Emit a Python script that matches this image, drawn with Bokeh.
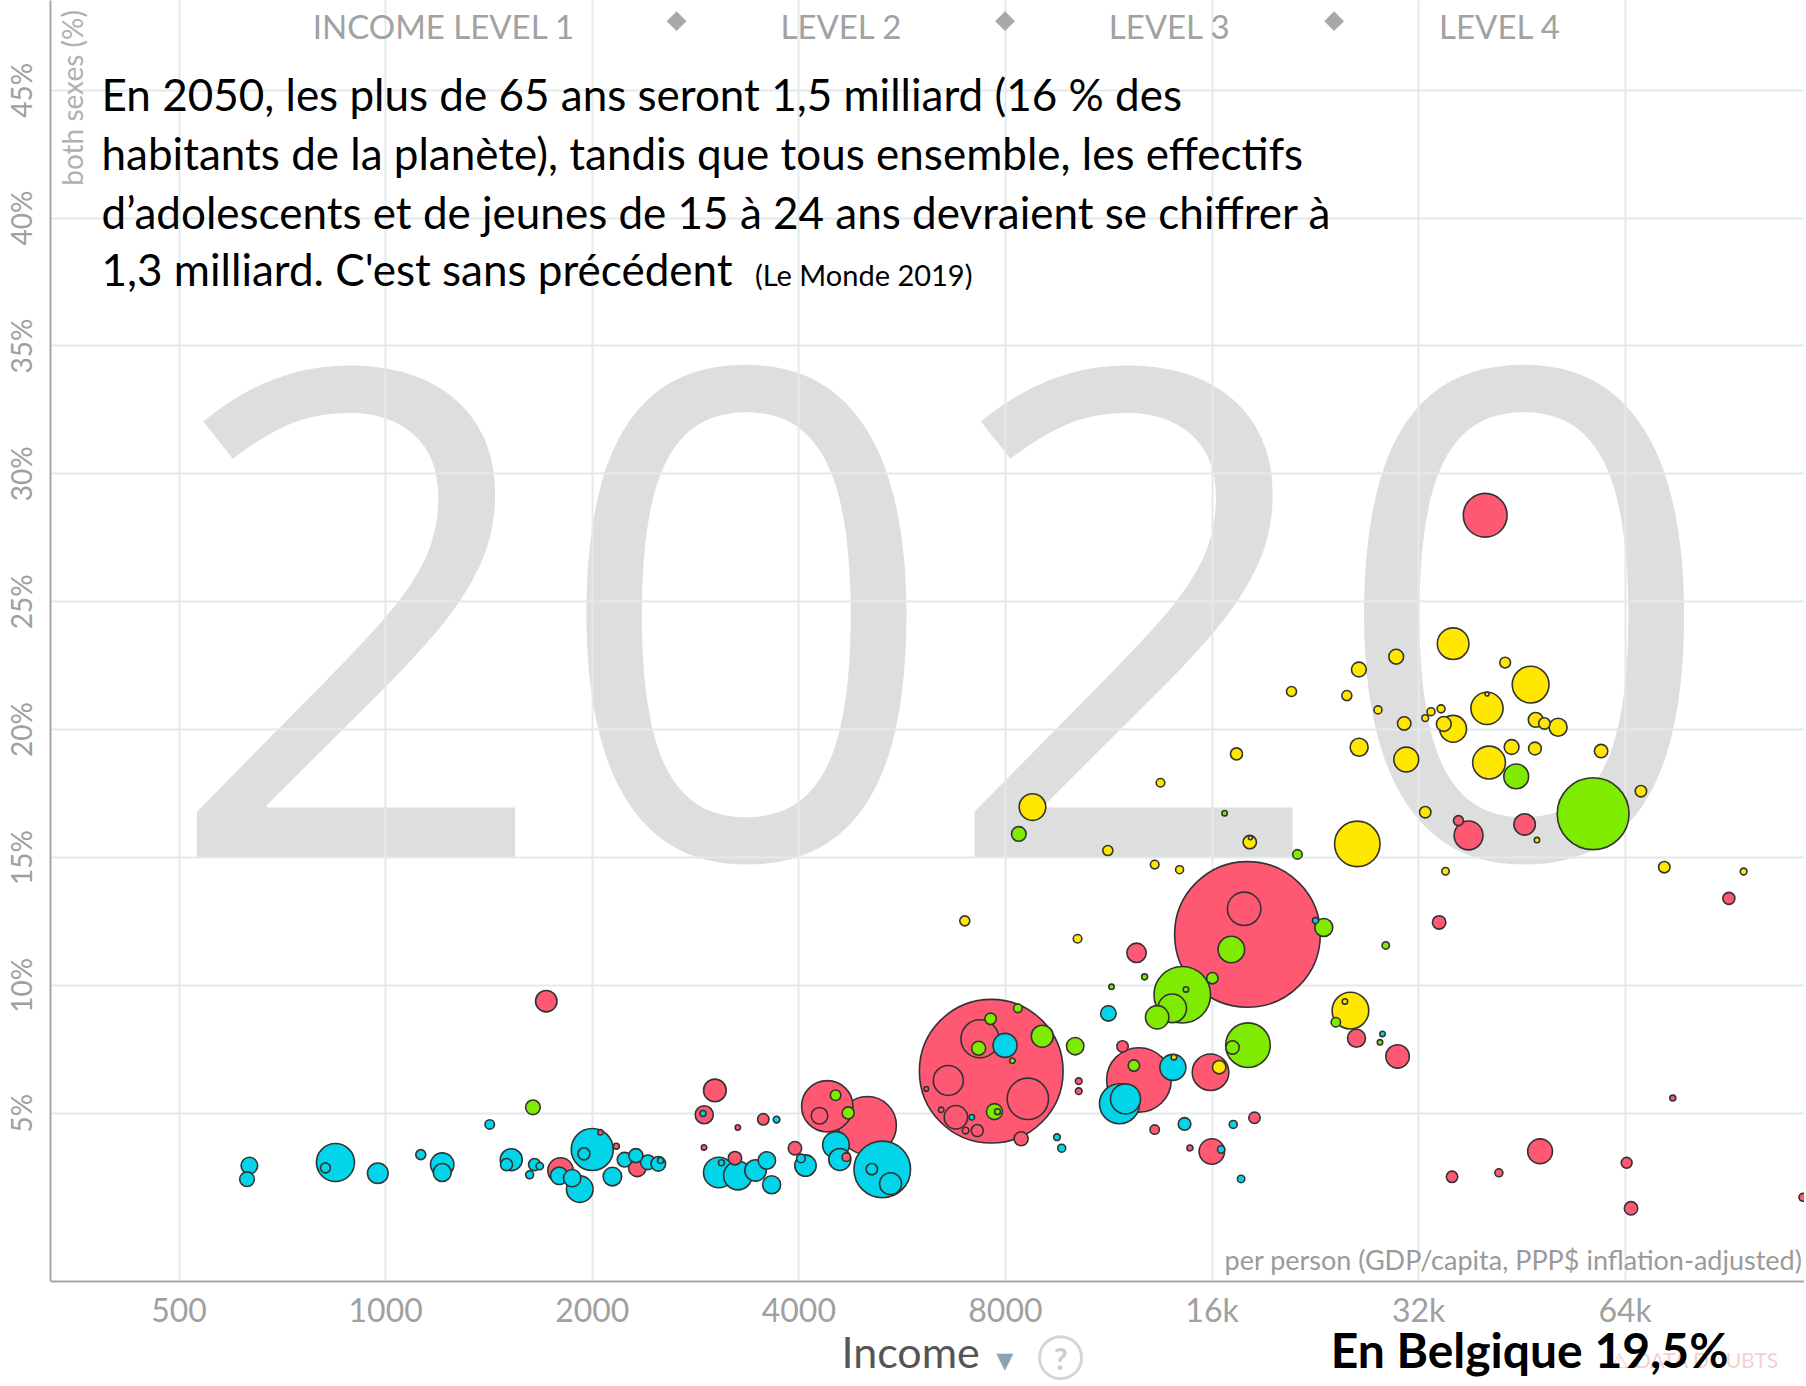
import math
from bokeh.plotting import figure
from bokeh.models import (ColumnDataSource, FixedTicker, PrintfTickFormatter, Label, Range1d,
                          BoxAnnotation)
from bokeh.embed import file_html
from bokeh.resources import INLINE

# ---- data (2020) ----
# income: GDP/capita PPP$, share_65: % of population aged 65+, population: millions
income = [633, 628, 845, 817, 974, 1125, 1209, 1209, 1418, 1714, 1639, 1524, 1500, 1648, 1677, 1621,
          1798, 1790, 1870, 1918, 2000, 1945, 2056, 2168, 2140, 2229, 2315, 2326, 2410, 2496, 2515,
          3018, 2912, 2900, 3260, 3550, 3712, 2910, 3058, 3085, 3228, 3260, 3459, 3593, 3651, 3948,
          4090, 4028, 4400, 4287, 4525, 4720, 5034, 4530, 4589, 4691, 5292, 5110, 5441,
          8760, 8367, 11280, 13200, 14350, 6980, 10190, 12420, 12760, 11420, 11300, 10110,
          7628, 7344, 7612, 7312, 7990, 8340, 9052, 8190, 6604, 8625, 6135, 6775, 6449, 7000, 7279,
          7147, 7711, 7790, 8433, 10230, 10230, 9510, 9662, 11850,
          17370, 13460, 16690, 18160, 18200, 21310, 26050, 18020, 17820, 17070, 23280, 22640,
          16020, 14480, 14000, 13310, 14660, 25460, 24990, 24240, 25980, 18050, 17140, 12520,
          12310, 14030, 14080, 11730, 11970, 15920, 16390, 13200, 14590, 17180, 18450, 15990,
          16500, 14860, 17640,
          35930, 29680, 26190, 25150, 27920, 30490, 26210, 30700, 32720, 33360, 34510, 35930,
          34820, 40250, 40250, 42780, 46600, 47400, 48800, 51100, 43720, 47280, 40530, 44400,
          59030, 67470, 57470, 32720, 37840, 36580, 45670, 47600, 35020, 72970, 95220, 90630,
          34280, 28660, 28350, 28110, 29820, 75080, 48100, 35800, 41890, 64310, 65260, 116200,
          40010, 20890]
share_65 = [2.95, 2.42, 3.07, 2.86, 2.65, 3.38, 2.99, 2.68, 4.56, 9.38, 5.23, 3.18, 2.99, 2.99, 2.93, 2.59,
            2.76, 2.55, 2.46, 2.03, 3.58, 3.41, 4.25, 3.71, 2.52, 3.18, 3.34, 2.86, 3.08, 3.02, 3.15,
            5.89, 4.94, 4.99, 4.44, 4.76, 4.75, 3.66, 2.68, 3.06, 3.24, 2.56, 2.76, 3.15, 2.20, 3.63,
            2.95, 3.23, 5.27, 4.90, 5.70, 5.01, 4.52, 3.76, 3.19, 3.28, 2.80, 2.81, 2.24,
            16.97, 15.92, 15.27, 14.72, 14.52, 12.52, 11.82, 11.27, 10.33, 9.94, 8.90, 7.62,
            6.64, 7.91, 8.69, 7.54, 7.65, 9.10, 8.01, 7.05, 6.28, 5.56, 5.95, 4.84, 5.13, 4.32, 4.32,
            4.84, 5.06, 5.06, 4.00, 6.25, 5.86, 4.06, 3.63, 7.61,
            19.05, 17.92, 16.73, 15.60, 15.77, 15.12, 15.53, 11.99, 12.99, 11.40, 12.26, 12.53,
            10.28, 9.63, 9.10, 8.75, 9.84, 9.01, 9.37, 8.56, 7.93, 7.66, 7.57, 6.30,
            6.86, 6.79, 7.19, 5.37, 5.56, 6.60, 6.80, 4.36, 4.58, 4.56, 4.82, 3.50,
            3.58, 3.64, 2.43,
            23.36, 22.85, 22.35, 21.33, 20.77, 20.24, 19.31, 18.83, 20.45, 20.70, 20.81, 20.03,
            20.22, 20.83, 21.39, 22.62, 21.76, 20.38, 20.24, 20.09, 19.32, 19.26, 18.71, 18.17,
            19.16, 17.59, 16.71, 16.77, 15.86, 16.44, 16.29, 15.68, 14.46, 14.62, 14.45, 13.40,
            12.46, 11.56, 8.10, 7.77, 7.22, 5.59, 3.51, 2.51, 2.67, 3.06, 1.28, 1.71,
            28.38, 21.49]
population = [18.7, 14.5, 98, 6.8, 28.8, 6.8, 37.1, 22, 6.0, 31.1, 14.5, 32.8, 9.8, 9.8, 3.7, 4.3,
              43.8, 20.5, 20.5, 48, 119.6, 9.8, 2.0, 2.4, 23.5, 14.5, 13.3, 20.5, 14.5, 14.5, 2.4,
              34.6, 22, 2.4, 2.0, 8.8, 3.0, 2.0, 63.5, 2.4, 12.2, 55.5, 31.1, 20.5, 22, 12.2,
              31.1, 5.0, 179, 18.7, 7.6, 9.8, 228, 48, 32.8, 5.0, 217, 8.8, 32.8,
              48, 14.5, 6.8, 5.0, 4.3, 6.8, 5.0, 25.5, 2.4, 2.0, 16.1, 20.5,
              1400, 98, 8.8, 13.3, 39, 5.0, 32.8, 2.0, 61, 116, 1.4, 37.1, 2.0, 3.0, 9.8,
              2.0, 17.4, 2.4, 13.3, 3.0, 3.0, 3.0, 4.3, 8.8,
              9.8, 5.0, 2.0, 12.2, 1.1, 6.0, 140, 1439, 75.7, 48, 22, 2.4,
              8.8, 217, 55.5, 37.1, 2.0, 90.9, 2.0, 6.0, 22, 135, 12.2, 283,
              8.8, 45.9, 2.0, 108.5, 61, 90.9, 12.2, 6.0, 10.8, 4.3, 8.8, 43.8,
              3.7, 2.4, 3.7,
              67.7, 14.9, 14.9, 6.8, 4.3, 12.2, 22, 41.7, 3.1, 4.3, 4.3, 48.7,
              14.9, 70.3, 1.1, 7.9, 91.8, 14.9, 8.8, 22, 14.9, 11.1, 73, 41.7,
              12.2, 8.8, 350, 8.8, 56.3, 6.8, 31.1, 2.0, 3.7, 8.8, 3.1, 9.8,
              12.2, 3.7, 2.0, 2.0, 37.1, 2.4, 41.7, 8.8, 4.3, 7.9, 12.2, 4.3,
              130, 6.8]
region = (["africa"] * 9 + ["asia", "americas"] + ["africa"] * 5
          + ["asia", "africa", "africa", "africa", "africa", "africa", "asia", "asia", "africa", "africa",
             "africa", "asia", "africa", "africa", "africa"]
          + ["asia", "asia", "africa", "asia", "asia", "africa", "asia", "africa", "africa", "asia",
             "africa", "africa", "africa", "africa", "asia"]
          + ["africa", "africa", "asia", "asia", "americas", "americas", "asia", "africa", "africa",
             "asia", "africa", "africa", "africa"]
          + ["europe", "americas", "europe", "europe", "europe", "europe", "europe", "asia",
             "americas", "americas", "africa", "americas"]
          + ["asia", "asia", "americas", "americas", "africa", "americas", "americas", "americas",
             "asia", "asia", "asia", "asia", "asia", "asia", "asia"]
          + ["africa", "americas", "americas", "asia", "asia", "asia", "africa", "africa", "asia"]
          + ["europe", "europe", "americas", "europe", "europe", "americas", "europe", "asia", "asia",
             "americas", "americas", "africa"]
          + ["americas", "americas", "americas", "americas", "americas", "europe", "europe",
             "americas", "asia", "americas", "americas", "asia"]
          + ["americas", "africa", "europe", "africa", "africa", "asia", "europe", "asia", "africa",
             "africa", "asia", "asia"]
          + ["africa", "asia", "africa"]
          + ["europe"] * 23 + ["americas"]
          + ["europe", "europe", "americas", "europe", "asia", "asia", "asia", "europe", "europe",
             "europe", "europe", "asia"]
          + ["asia", "americas", "africa", "americas", "asia", "asia", "asia", "asia", "asia", "asia",
             "asia", "asia"]
          + ["asia", "europe"])

region_colors = {"africa": "#00d5e9", "asia": "#ff5872", "americas": "#7feb00", "europe": "#ffe700"}

x_ticks = [500, 1000, 2000, 4000, 8000, 16000, 32000, 64000]
x_tick_labels = ["500", "1000", "2000", "4000", "8000", "16k", "32k", "64k"]
y_ticks = [5, 10, 15, 20, 25, 30, 35, 40, 45]

level_names = ["INCOME LEVEL 1", "LEVEL 2", "LEVEL 3", "LEVEL 4"]
level_centers = [1216, 4614, 13880, 42050]
level_bounds = [2654, 7990, 24100]

quote_lines = ["En 2050, les plus de 65 ans seront 1,5 milliard (16 % des",
               "habitants de la planète), tandis que tous ensemble, les effectifs",
               "d’adolescents et de jeunes de 15 à 24 ans devraient se chiffrer à",
               "1,3 milliard. C'est sans précédent"]
quote_source = "(Le Monde 2019)"

# ---- build ----
n = len(income)
assert len(share_65) == n and len(population) == n and len(region) == n
order = sorted(range(n), key=lambda i: -population[i])
src = ColumnDataSource(dict(
    x=[income[i] for i in order],
    y=[share_65[i] for i in order],
    size=[2 * 1.92 * math.sqrt(population[i]) for i in order],
    color=[region_colors[region[i]] for i in order],
))

Y_AXIS_AT = -1.58
p = figure(width=1804, height=1384, x_axis_type="log",
           x_range=Range1d(324.8, 116800), y_range=Range1d(-5.61, 48.51),
           output_backend="svg", toolbar_location=None, title=None,
           min_border_left=50, min_border_right=0, min_border_top=0, min_border_bottom=0)
p.outline_line_color = None
p.background_fill_color = "white"
p.border_fill_color = "white"

# big year watermark (beneath the grid)
p.add_layout(Label(x=6445, y=24.54, text="2020", text_align="center", text_baseline="alphabetic",
                   text_font="Open Sans", text_font_size="680px", text_color="#dedede", level="image"))

# grid
p.xgrid.ticker = FixedTicker(ticks=x_ticks)
p.ygrid.ticker = FixedTicker(ticks=y_ticks)
for g in (p.xgrid, p.ygrid):
    g.grid_line_color = "#e3eaea"
    g.grid_line_width = 2

# hide grid below the x axis line
p.add_layout(BoxAnnotation(top=Y_AXIS_AT, fill_color="white", fill_alpha=1, line_color=None,
                           level="underlay"))

# axes
p.xaxis.fixed_location = Y_AXIS_AT
p.xaxis.ticker = FixedTicker(ticks=x_ticks)
p.xaxis.major_label_overrides = {t: l for t, l in zip(x_ticks, x_tick_labels)}
p.yaxis.ticker = FixedTicker(ticks=y_ticks)
p.yaxis.formatter = PrintfTickFormatter(format="%d%%")
p.yaxis.major_label_orientation = "vertical"
p.yaxis.bounds = (Y_AXIS_AT, 48.51)
for ax in (p.xaxis, p.yaxis):
    ax.axis_line_color = "#a8a8a8"
    ax.axis_line_width = 2
    ax.major_tick_line_color = None
    ax.minor_tick_line_color = None
    ax.major_label_text_color = "#a0a0a0"
    ax.major_label_text_font = "Lato"
p.xaxis.major_label_text_font_size = "32px"
p.xaxis.major_label_standoff = 3
p.yaxis.major_label_text_font_size = "28px"
p.yaxis.major_label_standoff = 6

# income level header
for name, cx in zip(level_names, level_centers):
    p.add_layout(Label(x=cx, y=47.53, text=name, text_align="center", text_baseline="middle",
                       text_font="Lato", text_font_size="33px", text_color="#a2a2a2"))
p.scatter(x=level_bounds, y=[47.7] * len(level_bounds), marker="square", angle=math.pi / 4,
          size=14, fill_color="#a8a8a8", line_color=None)

# y axis title inside the plot
p.add_layout(Label(x=349, y=44.7, text="both sexes (%)", angle=math.pi / 2, text_align="center",
                   text_baseline="middle", text_font="Lato", text_font_size="28px", text_color="#b0b0b0"))

# bubbles
p.scatter("x", "y", size="size", source=src, fill_color="color", line_color="#333333",
          line_width=1.6, fill_alpha=1)

# x-axis description inside plot
p.add_layout(Label(x=116000, y=-0.72, text="per person (GDP/capita, PPP$ inflation-adjusted)",
                   text_align="right", text_baseline="middle", text_font="Lato",
                   text_font_size="27px", text_color="#9a9a9a"))

# quote
quote_baselines = [44.86, 42.55, 40.24, 38.00]
for line, yb in zip(quote_lines, quote_baselines):
    p.add_layout(Label(x=385.5, y=yb, text=line, text_align="left", text_baseline="alphabetic",
                       text_font="Lato", text_font_size="44px", text_color="#000000"))
p.add_layout(Label(x=3453, y=37.80, text=quote_source, text_align="left", text_baseline="alphabetic",
                   text_font="Lato", text_font_size="29px", text_color="#000000"))

# x axis title below: "Income ▾ (?)"
help_x, help_y = 9625, -4.56
p.add_layout(Label(x=5820, y=-4.31, text="Income", text_align="center", text_baseline="alphabetic",
                   text_font="Lato", text_font_size="43px", text_color="#555555"))
p.add_layout(Label(x=7980, y=-4.60, text="▾", text_align="center", text_baseline="middle",
                   text_font="DejaVu Sans", text_font_size="34px", text_color="#8ea3ad"))
p.scatter(x=[help_x], y=[help_y], marker="circle", size=42, fill_color=None,
          line_color="#d5d5d5", line_width=3)
p.add_layout(Label(x=help_x, y=help_y, text="?", text_align="center", text_baseline="middle",
                   text_font="Lato", text_font_size="30px", text_font_style="bold", text_color="#cccccc"))

# footer
p.add_layout(Label(x=60900, y=-4.62, text="⚠ DATA DOUBTS", text_align="left", text_baseline="alphabetic",
                   text_font="Lato", text_font_size="21px", text_color="#f5d0d0"))
p.add_layout(Label(x=23820, y=-4.24, text="En  Belgique 19,5%", text_align="left", text_baseline="alphabetic",
                   text_font="Lato", text_font_size="48px", text_font_style="bold", text_color="#000000"))

open("out.html", "w").write(file_html(p, INLINE))
